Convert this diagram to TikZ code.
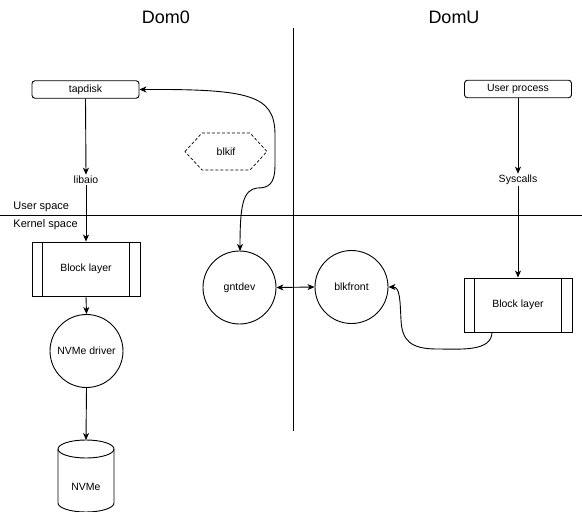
\documentclass[tikz,border=0pt]{standalone}
\usepackage{fontspec}
\setmainfont{Liberation Sans}
\usetikzlibrary{arrows.meta,shapes.misc}
\begin{document}
\begin{tikzpicture}[x=1pt,y=-1pt,line width=0.9pt,
  >={Stealth[length=7pt,width=6pt,inset=2pt]},
  lbl/.style={font=\fontsize{10.5}{12}\selectfont,inner sep=1pt},
  title/.style={font=\fontsize{18}{21}\selectfont,inner sep=0pt},
  rbox/.style={draw,rounded corners=3pt,minimum width=107pt,minimum height=17.5pt,inner sep=0pt,font=\fontsize{10.5}{12}\selectfont},
  procbox/.style={draw,minimum width=108pt,minimum height=54pt,inner sep=0pt,font=\fontsize{10.5}{12}\selectfont},
  circ/.style={draw,circle,minimum size=73pt,inner sep=0pt,font=\fontsize{10.5}{12}\selectfont},
  sidelbl/.style={font=\fontsize{11}{13}\selectfont,inner sep=0pt,anchor=west}]
\useasboundingbox (0,0) rectangle (582,512);

% titles
\node[title] (dom0) at (166,17) {Dom0};
\node[title] (domu) at (454,17) {DomU};

% separators
\coordinate (vtop) at (293,28);
\coordinate (vbot) at (293,431);
\coordinate (hl) at (0,215.5);
\coordinate (hr) at (582,215.5);
\draw (vtop) -- (vbot);
\draw (hl) -- (hr);
\node[sidelbl] (us) at (13,207) {User space};
\node[sidelbl] (ks) at (13,225) {Kernel space};

% Dom0 stack
\node[rbox] (tap) at (85.5,89.5) {tapdisk};
\node[lbl] (aio) at (86,180) {libaio};
\node[procbox] (blkL) at (86,269) {Block layer};
\draw ([xshift=11pt]blkL.north west) -- ([xshift=11pt]blkL.south west);
\draw ([xshift=-11pt]blkL.north east) -- ([xshift=-11pt]blkL.south east);
\node[circ] (drv) at (86.5,351) {NVMe driver};

% NVMe cylinder
\coordinate (nvtop) at (86,440);
\draw (58,449) arc[start angle=180,end angle=0,x radius=28,y radius=-9]
      arc[start angle=0,end angle=-180,x radius=28,y radius=-9] -- cycle;
\draw (58,449) -- (58,503) arc[start angle=180,end angle=360,x radius=28,y radius=-9] -- (114,449);
\node[lbl] (nvme) at (86,487) {NVMe};

\draw[->] (tap.south) -- (aio.north);
\draw[->] (aio.south) -- (blkL.north);
\draw[->] (blkL.south) -- (drv.north);
\draw[->] (drv.south) -- (nvtop);

% blkif hexagon
\node[lbl] (blkif) at (226,151.5) {blkif};
\draw[dashed,line width=0.7pt,dash pattern=on 3pt off 2pt] (185,151.5) -- (202,133) -- (250,133) -- (267,151.5) -- (250,170) -- (202,170) -- cycle;

% gntdev / blkfront
\node[circ] (gnt) at (239.5,287.5) {gntdev};
\node[circ] (bf) at (351.5,287) {blkfront};
\draw[<->] (gnt.east) -- (bf.west);

\draw[<->] (tap.east) .. controls (250,89) and (275,95) .. (275,135)
  -- (275,165) .. controls (275,185) and (268,188) .. (257,188)
  .. controls (243,190) and (240,205) .. (240,251);

% DomU stack
\node[rbox] (up) at (518,89) {User process};
\node[lbl] (sys) at (518,180) {Syscalls};
\node[procbox] (blkR) at (518,305) {Block layer};
\draw ([xshift=11pt]blkR.north west) -- ([xshift=11pt]blkR.south west);
\draw ([xshift=-11pt]blkR.north east) -- ([xshift=-11pt]blkR.south east);
\draw[->] (up.south) -- (sys.north);
\draw[->] (sys.south) -- (blkR.north);

\coordinate (blkRout) at (492,332);
\draw[->] (blkRout) .. controls (492,352) and (460,349) .. (437,349)
  .. controls (410,349) and (402,340) .. (401,320)
  .. controls (400,300) and (400,287) .. (bf.east);
\end{tikzpicture}
\end{document}
